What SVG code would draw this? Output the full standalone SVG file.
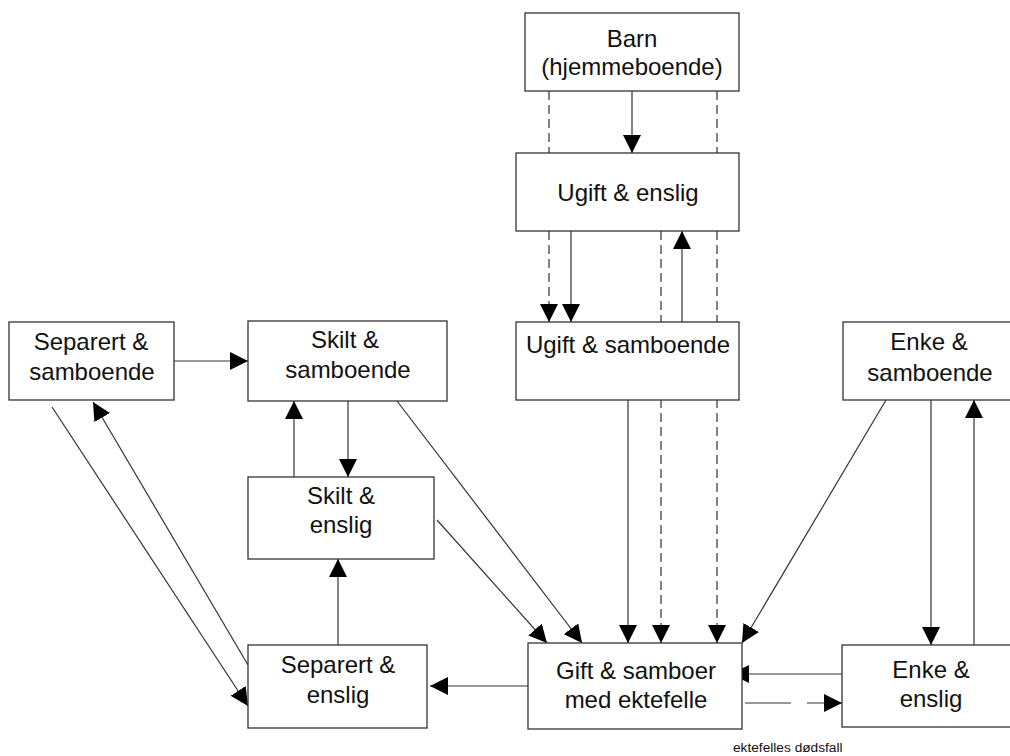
<svg xmlns="http://www.w3.org/2000/svg" width="1010" height="756" viewBox="0 0 1010 756">
<defs>
<style>
.box{fill:#fff;stroke:#333;stroke-width:1.3}
.t{font-family:"Liberation Sans",Arial,sans-serif;font-size:24px;fill:#111;text-anchor:middle}
.c{fill:none;stroke:#333;stroke-width:1.2}
.d{stroke-dasharray:9 5}
.small{font-family:"Liberation Sans",Arial,sans-serif;font-size:13.7px;fill:#111}
</style>
<marker id="ah" markerUnits="userSpaceOnUse" viewBox="0 0 18 18" markerWidth="18" markerHeight="18" refX="18" refY="9" orient="auto">
<path d="M0,0 L18,9 L0,18 z" fill="#000"/>
</marker>
</defs>
<rect width="1010" height="756" fill="#fff"/>
<g id="connectors">
<line class="c" x1="632" y1="91" x2="632" y2="153" marker-end="url(#ah)"/>
<line class="c d" x1="549" y1="91" x2="549" y2="322" marker-end="url(#ah)"/>
<line class="c d" x1="717" y1="91" x2="717" y2="643" marker-end="url(#ah)"/>
<line class="c" x1="571" y1="231" x2="571" y2="322" marker-end="url(#ah)"/>
<line class="c" x1="682" y1="322" x2="682" y2="231" marker-end="url(#ah)"/>
<line class="c d" x1="661" y1="231" x2="661" y2="643" marker-end="url(#ah)"/>
<line class="c" x1="628" y1="400" x2="628" y2="643" marker-end="url(#ah)"/>
<line class="c" x1="397" y1="401" x2="582" y2="643" marker-end="url(#ah)"/>
<line class="c" x1="437" y1="520" x2="547" y2="643" marker-end="url(#ah)"/>
<line class="c" x1="886" y1="400" x2="742" y2="643" marker-end="url(#ah)"/>
<line class="c" x1="931" y1="400" x2="931" y2="645" marker-end="url(#ah)"/>
<line class="c" x1="974" y1="645" x2="974" y2="400" marker-end="url(#ah)"/>
<line class="c" x1="842" y1="674" x2="731" y2="674" marker-end="url(#ah)"/>
<line class="c" x1="745" y1="703" x2="842" y2="703" stroke-dasharray="46 16" marker-end="url(#ah)"/>
<line class="c" x1="528" y1="686" x2="430" y2="686" marker-end="url(#ah)"/>
<line class="c" x1="174" y1="361" x2="248" y2="361" marker-end="url(#ah)"/>
<line class="c" x1="348" y1="401" x2="348" y2="477" marker-end="url(#ah)"/>
<line class="c" x1="294" y1="477" x2="294" y2="401" marker-end="url(#ah)"/>
<line class="c" x1="338" y1="645" x2="338" y2="559" marker-end="url(#ah)"/>
<line class="c" x1="52" y1="407" x2="248" y2="706" marker-end="url(#ah)"/>
<line class="c" x1="248" y1="665" x2="93" y2="402" marker-end="url(#ah)"/>
</g>
<g id="barn">
<rect class="box" x="525" y="13" width="214" height="78"/>
<text class="t" x="632" y="47">Barn</text>
<text class="t" x="632" y="75">(hjemmeboende)</text>
</g>
<g id="ugift-enslig">
<rect class="box" x="516" y="153" width="223" height="78"/>
<text class="t" x="628" y="201">Ugift &amp; enslig</text>
</g>
<g id="ugift-samboende">
<rect class="box" x="516" y="322" width="223" height="78"/>
<text class="t" x="628" y="353">Ugift &amp; samboende</text>
</g>
<g id="separert-samboende">
<rect class="box" x="9" y="322" width="165" height="78"/>
<text class="t" x="91" y="350">Separert &amp;</text>
<text class="t" x="92" y="380">samboende</text>
</g>
<g id="skilt-samboende">
<rect class="box" x="248" y="321" width="199" height="80"/>
<text class="t" x="345" y="348">Skilt &amp;</text>
<text class="t" x="348" y="378">samboende</text>
</g>
<g id="skilt-enslig">
<rect class="box" x="248" y="477" width="186" height="82"/>
<text class="t" x="341" y="504">Skilt &amp;</text>
<text class="t" x="341" y="533">enslig</text>
</g>
<g id="separert-enslig">
<rect class="box" x="248" y="645" width="179" height="83"/>
<text class="t" x="338" y="673">Separert &amp;</text>
<text class="t" x="338" y="703">enslig</text>
</g>
<g id="gift">
<rect class="box" x="528" y="643" width="214" height="86"/>
<text class="t" x="636" y="679">Gift &amp; samboer</text>
<text class="t" x="636" y="708">med ektefelle</text>
</g>
<g id="enke-samboende">
<rect class="box" x="843" y="322" width="175" height="78"/>
<text class="t" x="929" y="350">Enke &amp;</text>
<text class="t" x="930" y="381">samboende</text>
</g>
<g id="enke-enslig">
<rect class="box" x="842" y="645" width="176" height="82"/>
<text class="t" x="931" y="678">Enke &amp;</text>
<text class="t" x="931" y="707">enslig</text>
</g>
<text class="small" x="733" y="752">ektefelles dødsfall</text>
</svg>
